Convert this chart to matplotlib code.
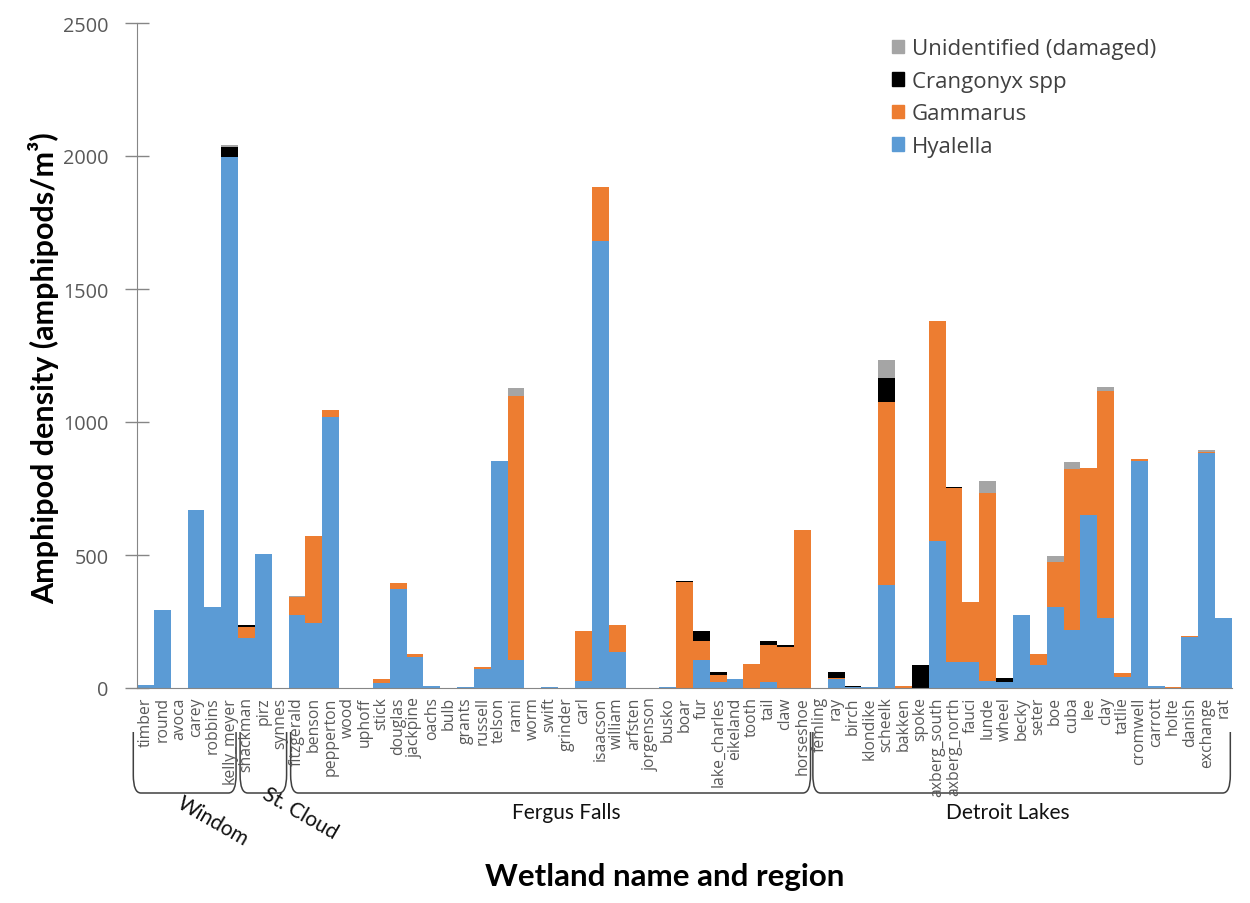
import matplotlib
matplotlib.use("Agg")
import matplotlib.pyplot as plt
from matplotlib.patches import Patch, PathPatch
from matplotlib.path import Path
from matplotlib import transforms
import numpy as np

wetlands = ["timber", "round", "avoca", "carey", "robbins", "kelly_meyer",
            "shackman", "pirz", "synnes",
            "fitzgerald", "benson", "pepperton", "wood", "uphoff", "stick", "douglas",
            "jackpine", "oachs", "bulb", "grants", "russell", "telson", "rami", "worm",
            "swift", "grinder", "carl", "isaacson", "william", "arfsten", "jorgenson",
            "busko", "boar", "fur", "lake_charles", "eikeland", "tooth", "tail", "claw",
            "horseshoe",
            "femling", "ray", "birch", "klondike", "scheelk", "bakken", "spoke",
            "axberg_south", "axberg_north", "fauci", "lunde", "wheel", "becky", "seter",
            "boe", "cuba", "lee", "clay", "tatlie", "cromwell", "carrott", "holte",
            "danish", "exchange", "rat"]

hyalella = [12, 295, 0, 668, 306, 1995,
            187, 505, 0,
            273, 246, 1018, 0, 0, 19, 371, 117, 6, 0, 5, 72, 853, 104, 0,
            3, 0, 28, 1680, 137, 0, 0, 5, 0, 104, 23, 35, 0, 23, 0, 0,
            0, 33, 3, 4, 388, 0, 0, 553, 98, 98, 25, 23, 273, 86,
            303, 219, 652, 262, 40, 852, 9, 0, 190, 882, 263]

gammarus = [0, 0, 0, 0, 0, 0,
            43, 0, 0,
            70, 327, 27, 0, 0, 15, 22, 10, 0, 0, 0, 7, 0, 992, 0,
            0, 0, 188, 204, 101, 0, 0, 0, 398, 71, 25, 0, 89, 137, 154, 595,
            0, 5, 0, 0, 687, 6, 0, 828, 655, 225, 709, 0, 0, 42,
            169, 604, 175, 856, 16, 9, 0, 4, 7, 4, 0]

crangonyx = [0, 0, 0, 0, 0, 40,
             6, 0, 0,
             0, 0, 0, 0, 0, 0, 0, 0, 0, 0, 0, 0, 0, 0, 0,
             0, 0, 0, 0, 0, 0, 0, 0, 4, 39, 12, 0, 0, 15, 9, 0,
             0, 22, 6, 0, 90, 0, 85, 0, 4, 0, 0, 15, 0, 0,
             0, 0, 0, 0, 0, 0, 0, 0, 0, 0, 0]

unidentified = [0, 0, 0, 0, 0, 5,
                0, 0, 0,
                4, 0, 0, 0, 0, 0, 0, 0, 0, 0, 0, 0, 0, 30, 0,
                0, 0, 0, 0, 0, 0, 0, 0, 0, 0, 0, 0, 0, 0, 0, 0,
                0, 0, 0, 0, 67, 0, 0, 0, 0, 0, 43, 0, 0, 0,
                23, 28, 0, 12, 0, 0, 0, 0, 0, 10, 0]

regions = ["Windom", "St. Cloud", "Fergus Falls", "Detroit Lakes"]
region_start = [0, 6, 9, 40]
region_end = [5, 8, 39, 64]

yticks = [0, 500, 1000, 1500, 2000, 2500]

C_HY = "#5B9BD5"
C_GA = "#ED7D31"
C_CR = "#000000"
C_UN = "#A5A5A5"
GRAY = "#595959"

W, H = 1250, 904
fig = plt.figure(figsize=(W / 100, H / 100), dpi=100)
ax = fig.add_axes([137 / W, 1 - 689 / H, (1232 - 137) / W, (689 - 24) / H])

x = np.arange(len(wetlands))
hy = np.array(hyalella, float)
ga = np.array(gammarus, float)
cr = np.array(crangonyx, float)
un = np.array(unidentified, float)

ax.bar(x, hy, width=1.0, color=C_HY, linewidth=0)
ax.bar(x, ga, width=1.0, bottom=hy, color=C_GA, linewidth=0)
ax.bar(x, cr, width=1.0, bottom=hy + ga, color=C_CR, linewidth=0)
ax.bar(x, un, width=1.0, bottom=hy + ga + cr, color=C_UN, linewidth=0)

ax.set_xlim(-0.5, len(wetlands) - 0.5)
ax.set_ylim(0, 2500)
ax.set_yticks(yticks)
ax.set_yticklabels([str(v) for v in yticks], fontsize=14.3, color=GRAY,
                   family="Open Sans")
ax.tick_params(axis="y", direction="inout", length=17, width=1, color="#868686", pad=12)
ax.set_xticks(x)
ax.set_xticklabels(wetlands, rotation=90, fontsize=11.3, color=GRAY, family="Open Sans",
                   va="top", ha="center")
ax.tick_params(axis="x", length=0, pad=6)

for s in ["top", "right"]:
    ax.spines[s].set_visible(False)
ax.spines["left"].set_color("#868686")
ax.spines["bottom"].set_color("#868686")

fig.text(44 / W, 1 - 368 / H, "Amphipod density (amphipods/m³)", rotation=90,
         ha="center", va="center", fontsize=22, fontweight="bold", family="Lato")
fig.text(665 / W, 1 - 877 / H, "Wetland name and region", ha="center", va="center",
         fontsize=22.5, fontweight="bold", family="Lato")

# region brackets (x in data, y in figure fraction)
bt = transforms.blended_transform_factory(ax.transData, fig.transFigure)
y_top = 1 - 733 / H
y_bot = 1 - 794 / H
ry = 18 / H
rx = 0.45
for i, (s, e) in enumerate(zip(region_start, region_end)):
    xl = s - 0.5 + (0.12 if i > 0 else -0.22)
    xr = e + 0.5 - (0.12 if i < len(regions) - 1 else 0.1)
    if i == 2:
        xr = e + 0.5 - 0.02
    verts = [(xl, y_top), (xl, y_bot + ry), (xl, y_bot), (xl + rx, y_bot),
             (xr - rx, y_bot), (xr, y_bot), (xr, y_bot + ry), (xr, y_top)]
    codes = [Path.MOVETO, Path.LINETO, Path.CURVE3, Path.CURVE3,
             Path.LINETO, Path.CURVE3, Path.CURVE3, Path.LINETO]
    ax.add_patch(PathPatch(Path(verts, codes), transform=bt, fill=False,
                           edgecolor="#404040", linewidth=1.1, clip_on=False))

lab_kw = dict(fontsize=15, family="Lato", color="#111111")
fig.text(213 / W, 1 - 822 / H, regions[0], rotation=-30, ha="center", va="center",
         rotation_mode="anchor", **lab_kw)
fig.text(300 / W, 1 - 814 / H, regions[1], rotation=-30, ha="center", va="center",
         rotation_mode="anchor", **lab_kw)
fig.text(566 / W, 1 - 813 / H, regions[2], ha="center", va="center", **lab_kw)
fig.text(1008 / W, 1 - 813 / H, regions[3], ha="center", va="center", **lab_kw)

handles = [Patch(color=C_UN), Patch(color=C_CR), Patch(color=C_GA), Patch(color=C_HY)]
labels = ["Unidentified (damaged)", "Crangonyx spp", "Gammarus", "Hyalella"]
leg = fig.legend(handles, labels, loc="upper left", bbox_to_anchor=(881 / W, 1 - 28 / H),
                 frameon=False, handlelength=0.55, handleheight=0.55,
                 handletextpad=0.35, labelspacing=0.52, borderpad=0,
                 prop={"family": "Open Sans", "size": 16})
for t in leg.get_texts():
    t.set_color("#404040")

fig.savefig("out.png", dpi=100)
